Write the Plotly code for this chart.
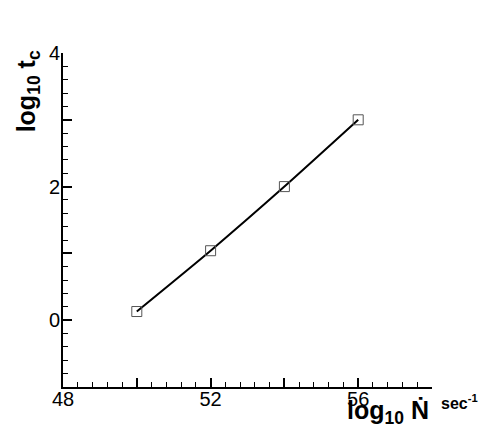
import plotly.graph_objects as go

log_ndot = [50, 52, 54, 56]
log_tc = [0.13, 1.04, 2.0, 3.0]

x_tickvals = [48, 50, 52, 54, 56, 58]
x_ticktext = ["48", "", "52", "", "56", ""]
y_tickvals = [-1, 0, 1, 2, 3, 4]
y_ticktext = ["", "0", "", "2", "", "4"]

FONT = "Liberation Sans, Arial, Helvetica, sans-serif"

fig = go.Figure()
fig.add_trace(go.Scatter(
    x=log_ndot, y=log_tc, mode="lines+markers",
    line=dict(color="black", width=2, shape="spline", smoothing=0.6),
    marker=dict(symbol="square-open", size=10, color="#555", line=dict(width=1, color="#555")),
    showlegend=False,
))

axis_common = dict(
    showline=True, linecolor="black", linewidth=2, mirror=False,
    showgrid=False, zeroline=False, automargin=False,
    ticks="inside", ticklen=9, tickwidth=2, tickcolor="black",
    tickfont=dict(family=FONT, size=20, color="black"),
)

fig.update_xaxes(range=[48, 58], tickvals=x_tickvals, ticktext=x_ticktext,
                 ticklabelstandoff=-7,
                 minor=dict(dtick=0.4, ticks="inside", ticklen=5, tickwidth=1, tickcolor="black"),
                 **axis_common)
fig.update_yaxes(range=[-1, 4], tickvals=y_tickvals, ticktext=y_ticktext,
                 ticklabelstandoff=-3,
                 minor=dict(dtick=0.2, ticks="inside", ticklen=5, tickwidth=1, tickcolor="black"),
                 **axis_common)

fig.add_annotation(xref="paper", yref="paper", x=-0.095, y=0.885,
                   text="<b>log<sub>10</sub> t<sub>c</sub></b>", textangle=-90,
                   showarrow=False, xanchor="center", yanchor="middle",
                   font=dict(family=FONT, size=25, color="black"))
fig.add_annotation(xref="paper", yref="paper", x=0.997, y=-0.02,
                   text="<b>log<sub>10</sub> Ṅ</b>",
                   showarrow=False, xanchor="right", yanchor="top",
                   font=dict(family=FONT, size=25, color="black"))
fig.add_annotation(xref="paper", yref="paper", x=1.02, y=-0.008,
                   text="<b>sec<sup>-1</sup></b>",
                   showarrow=False, xanchor="left", yanchor="top",
                   font=dict(family=FONT, size=16, color="black"))

fig.update_layout(
    width=483, height=428,
    margin=dict(l=55, r=59, t=45, b=49),
    paper_bgcolor="white", plot_bgcolor="white",
)

fig.write_html("out.html")
